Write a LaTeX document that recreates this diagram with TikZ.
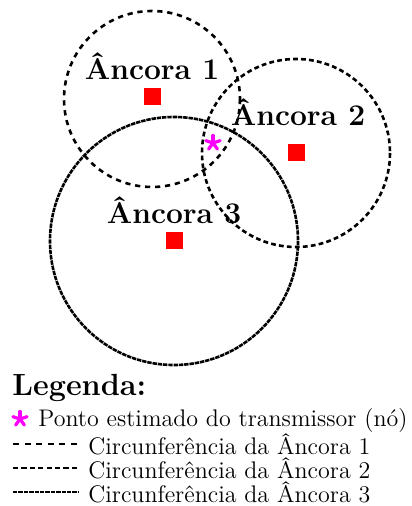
\documentclass[tikz,border=0pt]{standalone}
\definecolor{starmag}{RGB}{255,0,255}
\definecolor{sqred}{RGB}{255,0,0}
\begin{document}
\begin{tikzpicture}[x=0.5pt,y=-0.5pt,
  circA/.style={line width=1.3pt,dash pattern=on 2.6pt off 2.4pt},
  circB/.style={line width=1.3pt,dash pattern=on 2.4pt off 1.6pt},
  circC/.style={line width=1.3pt,dash pattern=on 2.2pt off 0.45pt},
  legA/.style={line width=1.3pt,dash pattern=on 3pt off 2.8pt},
  legB/.style={line width=1.3pt,dash pattern=on 2.6pt off 1.6pt},
  legC/.style={line width=1.3pt,dash pattern=on 2.2pt off 0.5pt},
  anchorsq/.style={fill=sqred,draw=none,minimum size=8.5pt,inner sep=0pt},
  lbl/.style={font=\fontsize{15}{18}\selectfont\bfseries},
  legtxt/.style={font=\large,anchor=west,inner sep=0pt},
  pics/asterisk/.style={code={
    \foreach \ang in {90,162,234,306,18}
      \draw[starmag,line width=1.6pt,line cap=round] (0,0) -- ++(\ang:-7.5);
  }}]
\useasboundingbox (0,0) rectangle (411,506);
% circles
\draw[circA] (152,99) circle[radius=88];
\draw[circB] (296,153) circle[radius=94];
\draw[circC] (174,241) circle[radius=124];
% anchors
\node[anchorsq] (a1) at (152,97) {};
\node[anchorsq] (a2) at (296,153) {};
\node[anchorsq] (a3) at (174,241) {};
\node[lbl] (l1) at (152,66) {Âncora 1};
\node[lbl] (l2) at (298,112) {Âncora 2};
\node[lbl] (l3) at (174,210) {Âncora 3};
\coordinate (est) at (213,143);
\pic at (est) {asterisk};
% legend
\node[font=\fontsize{15.3}{18}\selectfont\bfseries,anchor=west,inner sep=0pt] (leg) at (12,388) {Legenda:};
\coordinate (ls) at (20,419);
\pic at (ls) {asterisk};
\node[legtxt] (t0) at (38,421) {Ponto estimado do transmissor (nó)};
\coordinate (s1) at (13,444); \coordinate (e1) at (79,444);
\coordinate (s2) at (13,468); \coordinate (e2) at (79,468);
\coordinate (s3) at (13,492); \coordinate (e3) at (79,492);
\draw[legA] (s1) -- (e1);
\draw[legB] (s2) -- (e2);
\draw[legC] (s3) -- (e3);
\node[legtxt] (t1) at (88,444) {Circunferência da Âncora 1};
\node[legtxt] (t2) at (88,468) {Circunferência da Âncora 2};
\node[legtxt] (t3) at (88,492) {Circunferência da Âncora 3};
\end{tikzpicture}
\end{document}
